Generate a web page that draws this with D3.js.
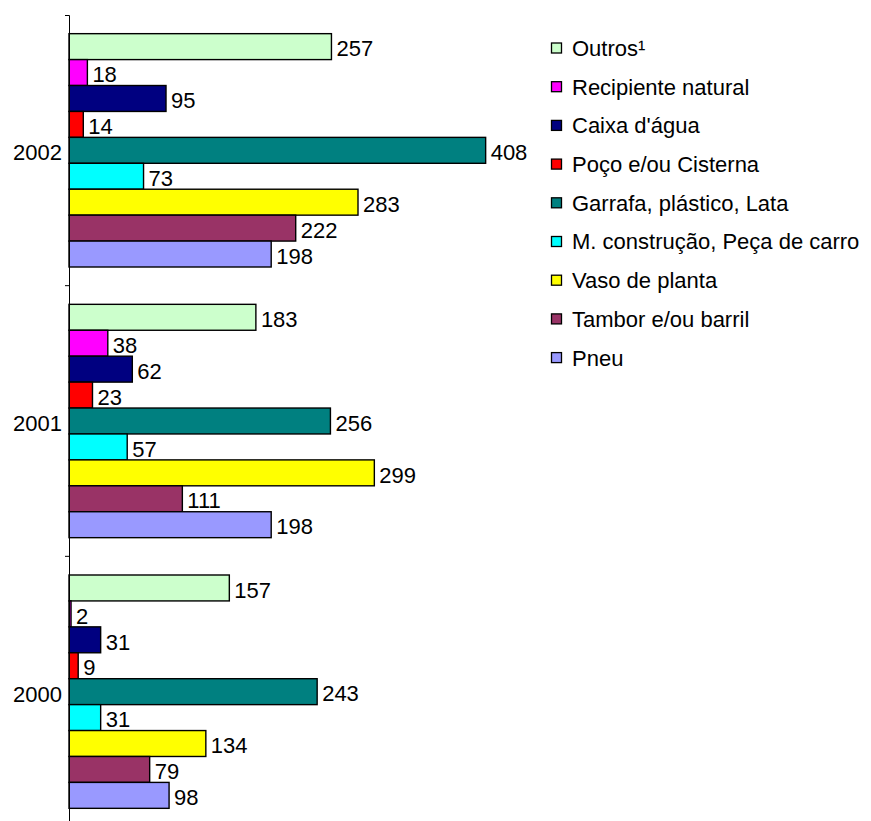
<!DOCTYPE html>
<html>
<head>
<meta charset="utf-8">
<script src="https://cdn.jsdelivr.net/npm/d3@7"></script>
<style>
  body { margin: 0; background: #fff; }
  text { font-family: "Liberation Sans", Arial, sans-serif; fill: #000; }
</style>
</head>
<body>
<div id="chart"></div>
<script>
// years, top to bottom
const years = ["2002", "2001", "2000"];

// container types, in the order they are stacked inside each year
const categories = [
  "Outros¹",
  "Recipiente natural",
  "Caixa d'água",
  "Poço e/ou Cisterna",
  "Garrafa, plástico, Lata",
  "M. construção, Peça de carro",
  "Vaso de planta",
  "Tambor e/ou barril",
  "Pneu"
];

const colors = ["#ccffcc", "#ff00ff", "#000080", "#ff0000", "#008080", "#00ffff", "#ffff00", "#993366", "#9999ff"];

// counts per category for every year
const values2002 = [257, 18, 95, 14, 408, 73, 283, 222, 198];
const values2001 = [183, 38, 62, 23, 256, 57, 299, 111, 198];
const values2000 = [157, 2, 31, 9, 243, 31, 134, 79, 98];

const valuesByYear = { "2002": values2002, "2001": values2001, "2000": values2000 };

const w = 871, h = 821;
const axisX = 69;
const fontSize = 22;

const svg = d3.select("#chart").append("svg")
  .attr("width", w)
  .attr("height", h);

svg.append("rect").attr("width", w).attr("height", h).attr("fill", "#fff");

// scales
const xScale = d3.scaleLinear().domain([0, 500]).range([axisX, axisX + 510.6]);
const yScale = d3.scaleBand().domain(years).range([15, 827]).paddingInner(0).paddingOuter(0);
const inner = d3.scaleBand().domain(categories).range([0, yScale.bandwidth()]).paddingInner(0).paddingOuter(0.72);

// flatten rows for the bars
const rows = [];
years.forEach(y => {
  valuesByYear[y].forEach((v, i) => rows.push({ year: y, cat: categories[i], value: v, color: colors[i] }));
});

const bars = svg.append("g");
bars.selectAll("rect")
  .data(rows)
  .enter()
  .append("rect")
  .attr("x", xScale(0))
  .attr("y", d => yScale(d.year) + inner(d.cat))
  .attr("width", d => xScale(d.value) - xScale(0))
  .attr("height", inner.bandwidth())
  .attr("fill", d => d.color)
  .attr("stroke", "#000")
  .attr("stroke-width", 1.4);

// value labels
svg.append("g").selectAll("text")
  .data(rows)
  .enter()
  .append("text")
  .attr("x", d => xScale(d.value) + 5)
  .attr("y", d => yScale(d.year) + inner(d.cat) + inner.bandwidth() / 2 + 2)
  .attr("dy", "0.35em")
  .attr("font-size", fontSize)
  .text(d => d.value);

// category axis
const yAxis = d3.axisLeft(yScale).tickSizeInner(0).tickSizeOuter(4).tickPadding(7);
const gy = svg.append("g")
  .attr("transform", `translate(${axisX},0)`)
  .call(yAxis);
gy.select(".domain").attr("stroke", "#000").attr("stroke-width", 1);
gy.selectAll(".tick text")
  .attr("font-size", fontSize)
  .attr("font-family", "Liberation Sans, Arial, sans-serif")
  .attr("dy", "0.45em");

// tick marks between the year groups
gy.selectAll(".sep")
  .data(years.slice(1))
  .enter()
  .append("line")
  .attr("x1", -4).attr("x2", 0)
  .attr("y1", d => yScale(d)).attr("y2", d => yScale(d))
  .attr("stroke", "#000");

// legend
const legend = svg.append("g").attr("transform", "translate(551,48)");
const item = legend.selectAll("g")
  .data(categories)
  .enter()
  .append("g")
  .attr("transform", (d, i) => `translate(0,${i * 38.7})`);
item.append("rect")
  .attr("x", 0.5).attr("y", -5)
  .attr("width", 10).attr("height", 10)
  .attr("fill", (d, i) => colors[i])
  .attr("stroke", "#000")
  .attr("stroke-width", 1.3);
item.append("text")
  .attr("x", 21)
  .attr("y", 0)
  .attr("dy", "0.36em")
  .attr("font-size", fontSize)
  .text(d => d);
</script>
</body>
</html>
